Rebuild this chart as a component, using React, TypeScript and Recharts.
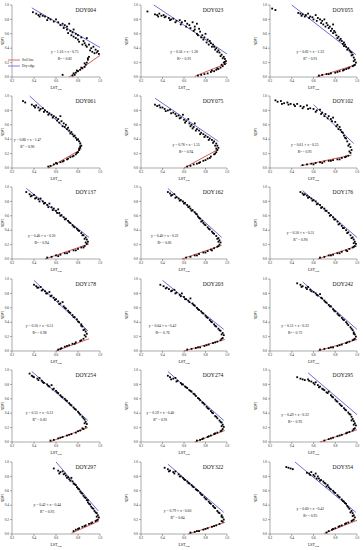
import React from 'react';
import { ScatterChart, Scatter, XAxis, YAxis, ReferenceLine } from 'recharts';

const X_TICKS = [0.2, 0.4, 0.6, 0.8, 1.0];
const Y_TICKS = [0, 0.2, 0.4, 0.6, 0.8, 1.0];

const DOY_LABELS = ['DOY004', 'DOY023', 'DOY055', 'DOY061', 'DOY075', 'DOY102', 'DOY137', 'DOY162', 'DOY176',
  'DOY178', 'DOY203', 'DOY242', 'DOY254', 'DOY274', 'DOY295', 'DOY297', 'DOY322', 'DOY354'];
const SLOPES = ['1.16', '0.56', '0.82', '0.86', '0.78', '0.61', '0.46', '0.40', '0.50',
  '0.50', '0.64', '0.51', '0.55', '0.59', '0.49', '0.42', '0.79', '0.60'];
const INTERCEPTS = ['0.75', '1.38', '1.32', '1.47', '1.55', '0.25', '0.20', '0.22', '0.51',
  '0.51', '0.42', '0.32', '0.31', '0.40', '0.32', '0.44', '0.60', '0.42'];
const R2_VALUES = ['0.82', '0.91', '0.91', '0.90', '0.94', '0.91', '0.94', '0.81', '0.90',
  '0.98', '0.76', '0.73', '0.83', '0.91', '0.93', '0.93', '0.84', '0.95'];

// dry edge endpoints [[x1,y1],[x2,y2]]
const DRY_EDGES = [
  [[0.38, 0.96], [1.0, 0.41]], [[0.32, 1.0], [1.0, 0.32]], [[0.40, 1.0], [0.99, 0.31]],
  [[0.36, 1.0], [0.83, 0.35]], [[0.33, 0.97], [0.92, 0.37]], [[0.60, 0.88], [0.97, 0.34]],
  [[0.33, 0.98], [0.90, 0.30]], [[0.45, 0.98], [0.95, 0.30]], [[0.50, 0.95], [1.0, 0.30]],
  [[0.40, 0.98], [0.89, 0.28]], [[0.40, 0.98], [0.97, 0.30]], [[0.50, 0.96], [1.0, 0.30]],
  [[0.38, 0.98], [0.89, 0.30]], [[0.45, 0.98], [0.97, 0.30]], [[0.55, 0.96], [1.0, 0.38]],
  [[0.60, 1.0], [0.985, 0.32]], [[0.45, 0.97], [0.97, 0.30]], [[0.43, 1.0], [0.99, 0.30]],
];
// soil line (wet edge) endpoints
const SOIL_LINES = [
  [[0.72, 0.0], [1.0, 0.30]], [[0.70, 0.01], [1.0, 0.19]], [[0.63, 0.0], [0.99, 0.17]],
  [[0.53, 0.0], [0.83, 0.26]], [[0.60, 0.0], [0.92, 0.26]], [[0.48, 0.03], [0.95, 0.18]],
  [[0.50, 0.0], [0.90, 0.21]], [[0.58, 0.0], [0.95, 0.19]], [[0.64, 0.0], [1.0, 0.18]],
  [[0.60, 0.0], [0.90, 0.17]], [[0.60, 0.0], [0.98, 0.16]], [[0.64, 0.0], [1.0, 0.16]],
  [[0.54, 0.0], [0.89, 0.20]], [[0.70, 0.0], [0.98, 0.16]], [[0.66, 0.0], [1.0, 0.17]],
  [[0.74, 0.01], [0.99, 0.18]], [[0.64, 0.0], [0.98, 0.16]], [[0.70, 0.01], [1.0, 0.19]],
];

const pts004 = [[0.39,0.90],[0.42,0.88],[0.44,0.86],[0.46,0.87],[0.48,0.85],[0.50,0.84],[0.53,0.82],[0.55,0.80],[0.60,0.80],[0.62,0.76],[0.66,0.74],[0.68,0.72],[0.70,0.70],[0.72,0.74],[0.70,0.66],[0.73,0.64],[0.75,0.62],[0.76,0.66],[0.78,0.60],[0.80,0.58],[0.76,0.56],[0.80,0.52],[0.83,0.55],[0.85,0.50],[0.86,0.47],[0.88,0.54],[0.90,0.45],[0.88,0.42],[0.92,0.40],[0.94,0.42],[0.96,0.38],[0.98,0.36],[0.95,0.33],[0.99,0.32],
  [0.90,0.28],[0.89,0.24],[0.88,0.20],[0.87,0.17],[0.86,0.14],[0.84,0.12],[0.82,0.10],[0.80,0.08],[0.78,0.06],[0.77,0.03],[0.75,0.02],[0.66,0.03],
  [0.45,0.84],[0.52,0.79],[0.58,0.77],[0.64,0.72],[0.67,0.68],[0.71,0.61],[0.74,0.58],[0.78,0.54],[0.81,0.49],[0.84,0.45],[0.87,0.44],[0.91,0.37],[0.93,0.35],[0.97,0.34],[0.89,0.26],[0.86,0.19],[0.83,0.13],[0.79,0.09],[0.76,0.05]];
const pts023 = [[0.26,0.91],[0.33,0.87],[0.35,0.86],[0.37,0.88],[0.39,0.85],[0.41,0.86],[0.43,0.84],[0.46,0.82],[0.48,0.80],[0.50,0.81],[0.53,0.78],[0.56,0.79],[0.58,0.76],[0.61,0.78],[0.63,0.74],[0.65,0.72],[0.68,0.76],[0.70,0.70],[0.72,0.74],[0.74,0.67],[0.69,0.64],[0.72,0.60],[0.75,0.63],[0.77,0.58],[0.79,0.55],[0.80,0.60],[0.82,0.52],[0.84,0.50],[0.85,0.47],[0.87,0.45],[0.88,0.42],[0.90,0.40],[0.92,0.37],[0.93,0.34],[0.95,0.31],[0.97,0.28],[0.98,0.25],[0.99,0.22],[0.97,0.20],
  [0.98,0.18],[0.96,0.15],[0.94,0.13],[0.92,0.11],[0.90,0.10],[0.88,0.08],[0.85,0.07],[0.82,0.05],[0.79,0.04],[0.76,0.03],[0.73,0.02],
  [0.36,0.84],[0.42,0.83],[0.47,0.79],[0.52,0.76],[0.57,0.73],[0.62,0.70],[0.66,0.68],[0.70,0.66],[0.73,0.58],[0.76,0.55],[0.78,0.52],[0.81,0.48],[0.83,0.45],[0.86,0.42],[0.89,0.38],[0.91,0.35],[0.94,0.29],[0.96,0.26],[0.98,0.21],[0.95,0.17],[0.91,0.12],[0.86,0.09]];
const pts055 = [[0.22,0.95],[0.25,0.93],[0.46,0.89],[0.48,0.88],[0.50,0.87],[0.53,0.86],[0.55,0.88],[0.57,0.84],[0.59,0.83],[0.62,0.86],[0.64,0.82],[0.66,0.80],[0.68,0.78],[0.70,0.80],[0.72,0.75],[0.73,0.72],[0.75,0.70],[0.77,0.67],[0.78,0.73],[0.79,0.64],[0.80,0.62],[0.81,0.58],[0.83,0.56],[0.85,0.53],[0.86,0.50],[0.88,0.48],[0.89,0.45],[0.90,0.42],[0.92,0.40],[0.93,0.37],[0.95,0.34],[0.96,0.31],[0.97,0.27],[0.98,0.24],[0.99,0.20],
  [0.98,0.17],[0.96,0.15],[0.93,0.13],[0.90,0.11],[0.87,0.09],[0.84,0.08],[0.80,0.06],[0.76,0.05],[0.72,0.04],[0.68,0.03],[0.65,0.02],
  [0.49,0.85],[0.52,0.84],[0.56,0.82],[0.60,0.80],[0.63,0.78],[0.67,0.75],[0.69,0.73],[0.71,0.70],[0.74,0.68],[0.76,0.64],[0.78,0.61],[0.82,0.54],[0.84,0.51],[0.87,0.46],[0.88,0.43],[0.91,0.38],[0.94,0.35],[0.95,0.30],[0.97,0.22],[0.97,0.16],[0.92,0.12],[0.88,0.10],[0.82,0.07],[0.74,0.04]];
const pts061 = [[0.30,0.93],[0.32,0.91],[0.38,0.88],[0.40,0.86],[0.42,0.87],[0.44,0.84],[0.46,0.82],[0.48,0.83],[0.50,0.80],[0.52,0.78],[0.54,0.76],[0.56,0.74],[0.58,0.72],[0.60,0.70],[0.62,0.68],[0.64,0.72],[0.65,0.65],[0.67,0.62],[0.66,0.58],[0.69,0.60],[0.71,0.56],[0.72,0.52],[0.74,0.50],[0.75,0.47],[0.77,0.45],[0.78,0.42],[0.80,0.40],[0.81,0.37],[0.82,0.34],[0.83,0.31],
  [0.82,0.28],[0.81,0.25],[0.80,0.22],[0.78,0.19],[0.76,0.17],[0.73,0.15],[0.70,0.12],[0.67,0.10],[0.64,0.08],[0.61,0.06],[0.58,0.05],[0.55,0.03],[0.53,0.02],
  [0.41,0.84],[0.45,0.80],[0.49,0.78],[0.53,0.74],[0.57,0.70],[0.61,0.66],[0.63,0.63],[0.68,0.57],[0.70,0.54],[0.73,0.48],[0.76,0.44],[0.79,0.39],[0.82,0.30],[0.81,0.27],[0.79,0.21],[0.75,0.16],[0.71,0.13],[0.66,0.09],[0.60,0.07]];
const pts075 = [[0.33,0.88],[0.35,0.86],[0.37,0.87],[0.40,0.84],[0.42,0.82],[0.45,0.80],[0.47,0.81],[0.50,0.77],[0.52,0.75],[0.55,0.73],[0.57,0.70],[0.59,0.74],[0.60,0.67],[0.62,0.65],[0.64,0.68],[0.65,0.62],[0.67,0.60],[0.69,0.57],[0.70,0.62],[0.72,0.54],[0.74,0.52],[0.76,0.49],[0.78,0.47],[0.80,0.45],[0.82,0.43],[0.84,0.41],[0.86,0.39],[0.88,0.37],[0.90,0.34],[0.91,0.31],[0.92,0.28],
  [0.91,0.25],[0.90,0.22],[0.88,0.19],[0.85,0.16],[0.82,0.13],[0.78,0.10],[0.75,0.08],[0.72,0.06],[0.69,0.05],[0.66,0.03],[0.63,0.02],
  [0.38,0.84],[0.43,0.79],[0.48,0.76],[0.53,0.72],[0.56,0.69],[0.61,0.63],[0.66,0.58],[0.68,0.55],[0.71,0.52],[0.75,0.47],[0.79,0.43],[0.83,0.39],[0.87,0.35],[0.89,0.31],[0.90,0.27],[0.89,0.20],[0.84,0.14],[0.80,0.11],[0.74,0.07]];
const pts102 = [[0.25,0.94],[0.27,0.92],[0.30,0.93],[0.33,0.90],[0.36,0.91],[0.39,0.89],[0.42,0.88],[0.45,0.89],[0.48,0.86],[0.51,0.85],[0.54,0.87],[0.57,0.83],[0.60,0.82],[0.63,0.80],[0.66,0.81],[0.68,0.77],[0.71,0.75],[0.74,0.72],[0.76,0.68],[0.78,0.70],[0.80,0.64],[0.82,0.60],[0.84,0.57],[0.85,0.53],[0.87,0.49],[0.88,0.45],[0.90,0.41],[0.91,0.37],[0.93,0.33],[0.94,0.29],[0.95,0.25],[0.94,0.21],
  [0.92,0.17],[0.89,0.15],[0.86,0.14],[0.82,0.12],[0.78,0.11],[0.74,0.10],[0.70,0.09],[0.66,0.08],[0.62,0.07],[0.58,0.06],[0.54,0.05],[0.50,0.04],
  [0.31,0.89],[0.37,0.88],[0.43,0.86],[0.50,0.83],[0.55,0.82],[0.62,0.78],[0.67,0.75],[0.70,0.72],[0.73,0.69],[0.77,0.65],[0.81,0.58],[0.83,0.54],[0.86,0.50],[0.89,0.42],[0.92,0.31],[0.93,0.23],[0.90,0.16],[0.84,0.12],[0.76,0.10],[0.68,0.07],[0.60,0.05]];
const pts137 = [[0.33,0.93],[0.36,0.90],[0.38,0.88],[0.40,0.89],[0.42,0.85],[0.44,0.83],[0.46,0.84],[0.48,0.80],[0.50,0.78],[0.52,0.75],[0.54,0.77],[0.56,0.72],[0.58,0.70],[0.60,0.67],[0.62,0.69],[0.63,0.64],[0.65,0.61],[0.67,0.58],[0.69,0.56],[0.71,0.53],[0.73,0.50],[0.75,0.47],[0.77,0.44],[0.79,0.42],[0.81,0.39],[0.83,0.36],[0.85,0.33],[0.87,0.30],[0.88,0.27],[0.89,0.24],
  [0.88,0.21],[0.86,0.18],[0.83,0.16],[0.80,0.14],[0.76,0.12],[0.72,0.10],[0.68,0.08],[0.64,0.06],[0.60,0.05],[0.56,0.03],[0.52,0.02],
  [0.37,0.87],[0.41,0.84],[0.45,0.80],[0.49,0.77],[0.53,0.72],[0.57,0.68],[0.61,0.64],[0.64,0.60],[0.68,0.55],[0.72,0.51],[0.76,0.45],[0.80,0.40],[0.84,0.33],[0.86,0.28],[0.87,0.23],[0.85,0.16],[0.78,0.12],[0.70,0.08],[0.62,0.04]];
const pts162 = [[0.45,0.93],[0.47,0.91],[0.49,0.89],[0.51,0.90],[0.53,0.86],[0.55,0.84],[0.57,0.82],[0.59,0.80],[0.61,0.78],[0.63,0.75],[0.65,0.73],[0.66,0.70],[0.68,0.68],[0.70,0.65],[0.72,0.62],[0.73,0.59],[0.75,0.56],[0.77,0.53],[0.78,0.50],[0.80,0.47],[0.82,0.44],[0.84,0.41],[0.86,0.38],[0.88,0.35],[0.90,0.32],[0.92,0.29],[0.93,0.26],[0.94,0.23],
  [0.93,0.20],[0.91,0.17],[0.88,0.15],[0.85,0.13],[0.82,0.11],[0.78,0.09],[0.74,0.07],[0.70,0.05],[0.66,0.03],[0.62,0.02],
  [0.48,0.88],[0.52,0.85],[0.56,0.81],[0.60,0.77],[0.64,0.72],[0.67,0.67],[0.71,0.63],[0.74,0.57],[0.76,0.52],[0.79,0.48],[0.83,0.42],[0.87,0.36],[0.91,0.28],[0.92,0.24],[0.92,0.18],[0.86,0.12],[0.80,0.09],[0.72,0.05]];
const pts176 = [[0.48,0.93],[0.50,0.91],[0.52,0.90],[0.54,0.88],[0.56,0.86],[0.58,0.84],[0.60,0.82],[0.62,0.80],[0.64,0.77],[0.66,0.75],[0.68,0.72],[0.70,0.70],[0.72,0.67],[0.74,0.64],[0.76,0.61],[0.78,0.58],[0.80,0.55],[0.82,0.52],[0.84,0.49],[0.86,0.46],[0.88,0.43],[0.90,0.40],[0.92,0.37],[0.94,0.33],[0.96,0.30],[0.97,0.27],[0.98,0.24],[0.99,0.21],
  [0.98,0.18],[0.96,0.16],[0.93,0.14],[0.90,0.12],[0.86,0.10],[0.82,0.08],[0.78,0.06],[0.74,0.05],[0.70,0.03],[0.66,0.02],
  [0.51,0.89],[0.55,0.85],[0.59,0.81],[0.63,0.76],[0.67,0.71],[0.71,0.67],[0.75,0.60],[0.79,0.55],[0.83,0.48],[0.87,0.43],[0.91,0.36],[0.95,0.29],[0.97,0.22],[0.97,0.17],[0.91,0.11],[0.84,0.08],[0.76,0.05]];
const pts178 = [[0.40,0.92],[0.42,0.90],[0.44,0.88],[0.46,0.89],[0.48,0.85],[0.50,0.83],[0.52,0.80],[0.54,0.82],[0.56,0.77],[0.58,0.74],[0.60,0.72],[0.62,0.69],[0.64,0.66],[0.66,0.68],[0.67,0.62],[0.69,0.59],[0.71,0.56],[0.73,0.53],[0.75,0.50],[0.77,0.47],[0.79,0.44],[0.81,0.40],[0.83,0.37],[0.84,0.34],[0.86,0.30],[0.87,0.27],[0.88,0.24],
  [0.87,0.20],[0.85,0.17],[0.82,0.14],[0.78,0.12],[0.75,0.10],[0.72,0.08],[0.68,0.06],[0.65,0.04],[0.62,0.02],
  [0.43,0.88],[0.47,0.84],[0.51,0.80],[0.55,0.76],[0.59,0.71],[0.63,0.65],[0.68,0.60],[0.72,0.54],[0.76,0.47],[0.80,0.41],[0.83,0.35],[0.85,0.29],[0.86,0.22],[0.83,0.15],[0.77,0.10],[0.70,0.07],[0.64,0.03]];
const pts203 = [[0.38,0.92],[0.41,0.90],[0.44,0.88],[0.46,0.86],[0.49,0.84],[0.51,0.85],[0.53,0.81],[0.56,0.78],[0.58,0.80],[0.60,0.75],[0.62,0.72],[0.64,0.70],[0.66,0.73],[0.68,0.66],[0.70,0.63],[0.72,0.60],[0.74,0.57],[0.76,0.55],[0.78,0.52],[0.80,0.49],[0.82,0.46],[0.84,0.43],[0.86,0.40],[0.88,0.37],[0.90,0.34],[0.92,0.31],[0.94,0.28],[0.96,0.25],[0.97,0.22],
  [0.96,0.18],[0.94,0.15],[0.91,0.13],[0.87,0.11],[0.83,0.09],[0.79,0.07],[0.75,0.05],[0.71,0.04],[0.67,0.03],[0.63,0.02],
  [0.43,0.87],[0.48,0.83],[0.52,0.80],[0.57,0.76],[0.61,0.72],[0.65,0.68],[0.69,0.64],[0.73,0.58],[0.77,0.53],[0.81,0.47],[0.85,0.41],[0.89,0.35],[0.93,0.29],[0.95,0.23],[0.95,0.17],[0.89,0.12],[0.81,0.08],[0.73,0.05]];
const pts242 = [[0.45,0.94],[0.48,0.92],[0.50,0.90],[0.53,0.88],[0.55,0.89],[0.57,0.85],[0.60,0.82],[0.62,0.80],[0.64,0.77],[0.66,0.79],[0.68,0.73],[0.70,0.70],[0.72,0.67],[0.74,0.64],[0.76,0.62],[0.78,0.58],[0.80,0.55],[0.82,0.52],[0.84,0.49],[0.86,0.46],[0.88,0.43],[0.90,0.40],[0.92,0.36],[0.94,0.33],[0.96,0.29],[0.97,0.26],[0.98,0.23],[0.99,0.20],
  [0.98,0.17],[0.96,0.15],[0.93,0.13],[0.90,0.11],[0.86,0.09],[0.82,0.07],[0.78,0.05],[0.74,0.04],[0.70,0.03],[0.66,0.02],
  [0.49,0.89],[0.54,0.86],[0.58,0.83],[0.63,0.78],[0.67,0.74],[0.71,0.68],[0.75,0.62],[0.79,0.56],[0.83,0.50],[0.87,0.44],[0.91,0.38],[0.95,0.31],[0.97,0.24],[0.97,0.16],[0.91,0.12],[0.84,0.08],[0.76,0.05]];
const pts254 = [[0.36,0.95],[0.38,0.92],[0.40,0.90],[0.43,0.88],[0.45,0.89],[0.47,0.85],[0.49,0.82],[0.52,0.80],[0.54,0.77],[0.56,0.79],[0.58,0.74],[0.60,0.71],[0.62,0.68],[0.64,0.65],[0.66,0.62],[0.68,0.60],[0.70,0.57],[0.72,0.54],[0.74,0.51],[0.76,0.48],[0.78,0.45],[0.80,0.42],[0.82,0.38],[0.84,0.35],[0.86,0.31],[0.87,0.28],[0.88,0.25],
  [0.87,0.21],[0.85,0.18],[0.82,0.16],[0.78,0.13],[0.74,0.11],[0.70,0.09],[0.66,0.07],[0.62,0.05],[0.58,0.03],[0.55,0.02],
  [0.39,0.91],[0.44,0.86],[0.48,0.83],[0.53,0.78],[0.57,0.73],[0.61,0.69],[0.65,0.63],[0.69,0.58],[0.73,0.52],[0.77,0.46],[0.81,0.40],[0.85,0.33],[0.86,0.26],[0.84,0.19],[0.80,0.15],[0.72,0.10],[0.64,0.06]];
const pts274 = [[0.45,0.92],[0.47,0.90],[0.50,0.88],[0.52,0.89],[0.54,0.85],[0.57,0.82],[0.59,0.80],[0.61,0.77],[0.63,0.75],[0.65,0.72],[0.67,0.70],[0.69,0.67],[0.71,0.64],[0.73,0.61],[0.75,0.58],[0.77,0.55],[0.79,0.52],[0.81,0.49],[0.83,0.46],[0.85,0.43],[0.87,0.40],[0.89,0.36],[0.91,0.33],[0.93,0.30],[0.95,0.27],[0.96,0.24],[0.97,0.21],
  [0.96,0.18],[0.94,0.15],[0.91,0.13],[0.88,0.11],[0.85,0.09],[0.82,0.07],[0.78,0.05],[0.75,0.03],[0.72,0.02],
  [0.48,0.87],[0.53,0.84],[0.58,0.80],[0.62,0.76],[0.66,0.71],[0.70,0.66],[0.74,0.60],[0.78,0.54],[0.82,0.47],[0.86,0.41],[0.90,0.35],[0.94,0.28],[0.95,0.22],[0.95,0.16],[0.89,0.12],[0.83,0.08],[0.77,0.04]];
const pts295 = [[0.45,0.90],[0.48,0.88],[0.52,0.86],[0.55,0.87],[0.58,0.84],[0.60,0.82],[0.62,0.83],[0.64,0.79],[0.66,0.77],[0.68,0.74],[0.70,0.72],[0.72,0.69],[0.74,0.70],[0.76,0.65],[0.78,0.62],[0.80,0.59],[0.82,0.56],[0.84,0.53],[0.86,0.50],[0.88,0.47],[0.90,0.44],[0.92,0.41],[0.94,0.38],[0.95,0.35],[0.96,0.32],[0.97,0.29],[0.98,0.26],[0.99,0.23],
  [0.98,0.19],[0.96,0.16],[0.93,0.14],[0.90,0.12],[0.86,0.10],[0.82,0.08],[0.78,0.06],[0.74,0.04],[0.70,0.02],
  [0.50,0.87],[0.56,0.85],[0.61,0.80],[0.65,0.76],[0.69,0.73],[0.73,0.68],[0.77,0.63],[0.81,0.57],[0.85,0.51],[0.89,0.45],[0.93,0.39],[0.95,0.30],[0.97,0.24],[0.97,0.18],[0.91,0.13],[0.84,0.09],[0.76,0.05]];
const pts297 = [[0.58,0.91],[0.62,0.88],[0.64,0.86],[0.66,0.87],[0.68,0.84],[0.69,0.81],[0.71,0.79],[0.72,0.76],[0.74,0.78],[0.75,0.73],[0.76,0.70],[0.78,0.68],[0.79,0.65],[0.81,0.62],[0.82,0.59],[0.84,0.56],[0.85,0.53],[0.87,0.50],[0.88,0.47],[0.89,0.44],[0.91,0.41],[0.92,0.38],[0.94,0.35],[0.95,0.32],[0.97,0.29],[0.98,0.26],[0.99,0.23],
  [0.98,0.20],[0.96,0.18],[0.93,0.16],[0.90,0.14],[0.87,0.12],[0.84,0.10],[0.81,0.08],[0.78,0.06],[0.76,0.04],
  [0.63,0.84],[0.67,0.83],[0.70,0.78],[0.73,0.74],[0.77,0.69],[0.80,0.63],[0.83,0.57],[0.86,0.51],[0.89,0.47],[0.90,0.42],[0.93,0.36],[0.96,0.30],[0.97,0.24],[0.97,0.19],[0.92,0.15],[0.86,0.11],[0.80,0.07]];
const pts322 = [[0.42,0.92],[0.45,0.90],[0.47,0.88],[0.50,0.86],[0.52,0.87],[0.55,0.83],[0.57,0.80],[0.59,0.78],[0.61,0.75],[0.63,0.73],[0.65,0.70],[0.67,0.68],[0.69,0.65],[0.71,0.62],[0.73,0.60],[0.75,0.57],[0.77,0.54],[0.79,0.51],[0.81,0.48],[0.83,0.45],[0.85,0.42],[0.87,0.39],[0.89,0.36],[0.91,0.32],[0.93,0.29],[0.95,0.26],[0.96,0.23],[0.97,0.20],
  [0.96,0.17],[0.93,0.14],[0.90,0.12],[0.86,0.10],[0.82,0.08],[0.78,0.06],[0.74,0.04],[0.70,0.03],[0.66,0.02],
  [0.46,0.87],[0.51,0.84],[0.56,0.80],[0.60,0.76],[0.64,0.71],[0.68,0.66],[0.72,0.61],[0.76,0.55],[0.80,0.49],[0.84,0.43],[0.88,0.37],[0.92,0.30],[0.95,0.24],[0.95,0.18],[0.88,0.11],[0.80,0.07],[0.72,0.04]];
const pts354 = [[0.35,0.93],[0.37,0.92],[0.39,0.91],[0.41,0.90],[0.54,0.85],[0.56,0.84],[0.58,0.86],[0.60,0.82],[0.62,0.84],[0.64,0.80],[0.65,0.77],[0.67,0.75],[0.69,0.73],[0.71,0.70],[0.73,0.68],[0.74,0.65],[0.76,0.62],[0.78,0.60],[0.80,0.57],[0.82,0.54],[0.84,0.51],[0.86,0.48],[0.88,0.45],[0.90,0.42],[0.91,0.39],[0.93,0.35],[0.95,0.32],[0.96,0.29],[0.97,0.26],[0.98,0.23],
  [0.97,0.20],[0.95,0.18],[0.92,0.16],[0.89,0.14],[0.86,0.12],[0.83,0.10],[0.80,0.08],[0.77,0.06],[0.74,0.04],[0.72,0.02],
  [0.57,0.82],[0.61,0.80],[0.63,0.77],[0.66,0.74],[0.70,0.71],[0.72,0.66],[0.75,0.63],[0.79,0.58],[0.83,0.52],[0.87,0.46],[0.89,0.43],[0.92,0.37],[0.94,0.30],[0.96,0.25],[0.96,0.19],[0.90,0.15],[0.84,0.11],[0.78,0.07]];

const POINTS = [pts004, pts023, pts055, pts061, pts075, pts102, pts137, pts162, pts176,
  pts178, pts203, pts242, pts254, pts274, pts295, pts297, pts322, pts354];

// layout (pixels) and text anchors (data coords)
const COL_LEFT = [12, 141, 270];
const COL_W = [88, 86, 87];
const ROW_TOP = [5, 96, 187, 279, 370, 462];
const PLOT_H = 72;
const NDVI_OFFSET = [9, 14, 14];
const EQ_ANCHORS = [
  [0.68, 0.33], [0.60, 0.33], [0.57, 0.34], [0.34, 0.38], [0.62, 0.30], [0.52, 0.30],
  [0.47, 0.30], [0.42, 0.30], [0.48, 0.35], [0.45, 0.33], [0.40, 0.33], [0.43, 0.33],
  [0.45, 0.39], [0.38, 0.39], [0.43, 0.36], [0.52, 0.39], [0.54, 0.31], [0.57, 0.33],
];

const FONT = "'Liberation Serif', 'Times New Roman', serif";
const BLUE = '#6f6fd6';
const RED = '#dc5a5a';

const dot = (p: any) => <rect x={p.cx - 0.9} y={p.cy - 0.9} width={1.8} height={1.8} fill="#000" />;

function Panel({ i }: { i: number }) {
  const col = i % 3;
  const row = Math.floor(i / 3);
  const pl = COL_LEFT[col];
  const pw = COL_W[col];
  const pt = ROW_TOP[row];
  const data = POINTS[i].map(([x, y]) => ({ x, y }));
  const dry = DRY_EDGES[i];
  const soil = SOIL_LINES[i];
  const eq = EQ_ANCHORS[i];
  const yw = 12 + (NDVI_OFFSET[col] - 9);

  const eqShape = (p: any) => (
    <text x={p.cx} y={p.cy} textAnchor="middle" fontSize={3.7} fontFamily={FONT} fill="#111">
      <tspan x={p.cx}>{`y = ${SLOPES[i]} × x - ${INTERCEPTS[i]}`}</tspan>
      <tspan x={p.cx} dy={7}>R<tspan fontSize={2.6} dy={-1.5}>2</tspan><tspan dy={1.5}>{` = ${R2_VALUES[i]}`}</tspan></tspan>
    </text>
  );
  const doyShape = (p: any) => (
    <text x={p.cx} y={p.cy} textAnchor="middle" fontSize={5.6} fontFamily={FONT} fill="#111">{DOY_LABELS[i]}</text>
  );
  const legendShape = (p: any) => (
    <g fontFamily={FONT} fontSize={3.5} fill="#111">
      <line x1={p.cx - 4} x2={p.cx + 8} y1={p.cy} y2={p.cy} stroke={RED} strokeWidth={0.9} />
      <text x={p.cx + 10} y={p.cy + 1.2}>Soil line</text>
      <line x1={p.cx - 4} x2={p.cx + 8} y1={p.cy + 6} y2={p.cy + 6} stroke={BLUE} strokeWidth={0.9} />
      <text x={p.cx + 10} y={p.cy + 7.2}>Dry edge</text>
    </g>
  );
  const xLabel = (props: any) => {
    const vb = props.viewBox;
    return (
      <text x={vb.x + vb.width / 2} y={vb.y + 12} textAnchor="middle" fontSize={4} fontFamily={FONT} fill="#111">
        LST<tspan fontSize={2.8} dy={1}>sim</tspan>
      </text>
    );
  };
  const yLabel = (props: any) => {
    const vb = props.viewBox;
    const x = vb.x + vb.width - NDVI_OFFSET[col];
    const y = vb.y + vb.height / 2;
    return (
      <text x={x} y={y} transform={`rotate(-90 ${x} ${y})`} textAnchor="middle" fontSize={3.6} fontFamily={FONT} fill="#111" dominantBaseline="central">
        NDVI
      </text>
    );
  };

  return (
    <div style={{ position: 'absolute', left: pl - yw, top: pt - 4 }}>
      <ScatterChart width={pw + yw + 4} height={PLOT_H + 4 + 16} margin={{ top: 4, right: 4, left: 0, bottom: 0 }}>
        <XAxis type="number" dataKey="x" domain={[0.2, 1]} ticks={X_TICKS} interval={0} height={16}
          tickSize={2} tickMargin={1} tickFormatter={(v: number) => v.toFixed(1)}
          tick={{ fontSize: 3.4, fill: '#222', fontFamily: FONT }} stroke="#555" strokeWidth={0.5}
          label={xLabel} />
        <YAxis type="number" dataKey="y" domain={[0, 1]} ticks={Y_TICKS} interval={0} width={yw}
          tickSize={2} tickMargin={1} tickFormatter={(v: number) => v.toFixed(1)}
          tick={{ fontSize: 3.4, fill: '#222', fontFamily: FONT }} stroke="#555" strokeWidth={0.5}
          label={yLabel} />
        <Scatter data={data} shape={dot} isAnimationActive={false} />
        <ReferenceLine segment={[{ x: dry[0][0], y: dry[0][1] }, { x: dry[1][0], y: dry[1][1] }]} stroke={BLUE} strokeWidth={1} ifOverflow="visible" />
        <ReferenceLine segment={[{ x: soil[0][0], y: soil[0][1] }, { x: soil[1][0], y: soil[1][1] }]} stroke={RED} strokeWidth={1} ifOverflow="visible" />
        <Scatter data={[{ x: eq[0], y: eq[1] }]} shape={eqShape} isAnimationActive={false} />
        <Scatter data={[{ x: 0.87, y: 0.9 }]} shape={doyShape} isAnimationActive={false} />
        {i === 0 && <Scatter data={[{ x: 0.2, y: 0.236 }]} shape={legendShape} isAnimationActive={false} />}
      </ScatterChart>
    </div>
  );
}

export default function App() {
  return (
    <div style={{ position: 'absolute', left: 0, top: 0, width: 364, height: 550, background: '#fff' }}>
      {POINTS.map((_, i) => <Panel key={i} i={i} />)}
    </div>
  );
}
